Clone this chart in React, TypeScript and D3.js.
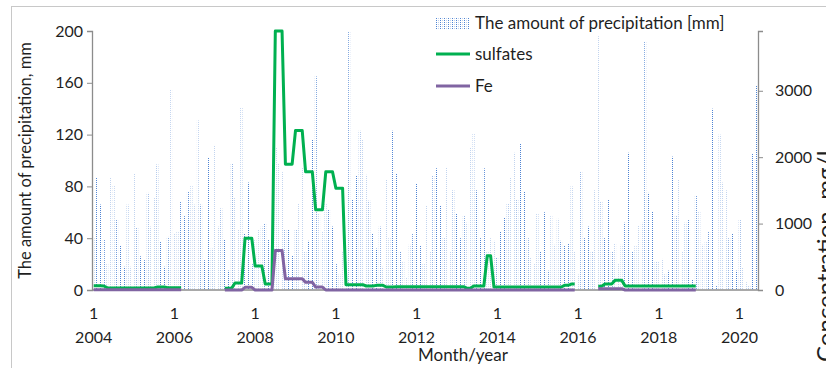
import React, { useEffect, useRef } from 'react'
import * as d3 from 'd3'

const width = 826
const height = 368
// plot area: x 92..758, y 31..290
const margin = { top: 31, right: 68, bottom: 78, left: 92 }

const firstYear = 2004
// monthly precipitation [mm], Jan 2004 .. Jun 2020
const precipitation = [
  40, 87, 66, 39, 20, 87, 81, 54, 34, 18, 66, 18,
  90, 48, 26, 23, 75, 49, 71, 97, 37, 18, 41, 155,
  44, 45, 68, 57, 76, 81, 66, 131, 66, 23, 102, 32,
  112, 49, 63, 39, 15, 98, 71, 47, 141, 44, 83, 20,
  39, 47, 49, 51, 39, 30, 110, 98, 91, 47, 47, 27,
  47, 67, 95, 30, 38, 116, 165, 59, 45, 67, 62, 49,
  20, 12, 30, 22, 200, 70, 88, 123, 116, 89, 69, 44,
  32, 49, 18, 85, 40, 123, 90, 30, 22, 10, 35, 44,
  82, 34, 20, 65, 30, 88, 94, 65, 40, 95, 30, 77,
  59, 40, 57, 52, 110, 121, 77, 40, 94, 30, 40, 38,
  25, 45, 56, 67, 87, 106, 70, 113, 76, 40, 25, 20,
  59, 30, 60, 15, 57, 35, 55, 38, 34, 36, 80, 30,
  12, 91, 40, 49, 30, 77, 196, 68, 40, 70, 30, 36,
  20, 35, 52, 106, 30, 34, 50, 52, 192, 75, 61, 22,
  22, 24, 12, 15, 103, 57, 85, 30, 52, 54, 8, 73,
  61, 35, 37, 45, 140, 3, 120, 83, 77, 40, 44, 15,
  54, 17, 6, 3, 105, 158
]

// sulfates [mg/L], null = no measurement
const sulfates = [
  65, 65, 65, 60, 35, 30, 30, 30, 30, 30, 30, 30,
  30, 30, 30, 30, 30, 30, 30, 45, 45, 45, 35, 35,
  35, 35, 35, null, null, null, null, null, null, null, null, null,
  null, null, null, 25, 25, 25, 105, 105, 105, 780, 780, 780,
  360, 360, 360, 90, 90, 90, 3900, 3900, 3900, 1895, 1895, 1895,
  2400, 2400, 2400, 1780, 1780, 1780, 1208, 1208, 1208, 1780, 1780, 1780,
  1534, 1534, 1534, 80, 80, 80, 80, 80, 80, 60, 60, 60,
  70, 70, 70, 45, 45, 45, 50, 50, 50, 50, 50, 50,
  50, 50, 50, 50, 50, 50, 50, 50, 50, 50, 50, 50,
  50, 50, 50, 25, 25, 60, 60, 60, 60, 516, 516, 45,
  45, 45, 45, 45, 45, 45, 45, 45, 45, 45, 45, 45,
  45, 45, 45, 45, 45, 45, 45, 45, 70, 70, 90, 90,
  null, null, null, null, null, null, 55, 55, 90, 90, 90, 145,
  145, 145, 60, 60, 60, 60, 60, 60, 60, 60, 60, 60,
  60, 60, 60, 60, 60, 60, 60, 60, 60, 60, 60, 60,
  null, null, null, null, null, null, null, null, null, null, null, null,
  null, null, null, null, null, null
]

// Fe [mg/L]
const fe = [
  5, 5, 5, 5, 5, 5, 5, 5, 5, 5, 5, 5,
  5, 5, 5, 5, 5, 5, 5, 5, 5, 5, 5, 5,
  5, 5, 5, null, null, null, null, null, null, null, null, null,
  null, null, null, 0, 0, 0, 0, 0, 0, 40, 40, 40,
  0, 0, 0, 0, 0, 0, 595, 595, 595, 170, 170, 170,
  170, 170, 170, 115, 115, 115, 45, 45, 45, 0, 0, 0,
  0, 0, 0, 0, 0, 0, 0, 0, 0, 0, 0, 0,
  0, 0, 0, 0, 0, 0, 0, 0, 0, 0, 0, 0,
  0, 0, 0, 0, 0, 0, 0, 0, 0, 0, 0, 0,
  0, 0, 0, 0, 0, 0, 0, 0, 0, 0, 0, 0,
  0, 0, 0, 0, 0, 0, 0, 0, 0, 0, 0, 0,
  0, 0, 0, 0, 0, 0, 0, 0, 0, 0, 0, 0,
  null, null, null, null, null, null, 20, 20, 20, 20, 20, 20,
  20, 20, 0, 0, 0, 0, 0, 0, 0, 0, 0, 0,
  0, 0, 0, 0, 0, 0, 0, 0, 0, 0, 0, 0,
  null, null, null, null, null, null, null, null, null, null, null, null,
  null, null, null, null, null, null
]

const precipTicks = [0, 40, 80, 120, 160, 200]
const concTicks = [0, 1000, 2000, 3000]
const yearLabels = [2004, 2006, 2008, 2010, 2012, 2014, 2016, 2018, 2020]

const font = 'Lato, "Open Sans", sans-serif'
const textColor = '#1f1f1f'
const axisColor = '#8c8c8c'
const green = '#00b050'
const purple = '#8064a2'

export default function App () {
  const ref = useRef<SVGSVGElement>(null)

  useEffect(() => {
    const svg = d3.select(ref.current)
    svg.selectAll('*').remove()

    const months = precipitation.map((_, i) => i)

    // scales
    const x = d3.scaleBand<number>()
      .domain(months)
      .range([margin.left, width - margin.right])
      .padding(0)
    const cx = (i: number) => (x(i) as number) + x.bandwidth() / 2

    const yLeft = d3.scaleLinear()
      .domain([0, 200])
      .range([height - margin.bottom, margin.top])
    const yRight = d3.scaleLinear()
      .domain([0, 3900])
      .range([height - margin.bottom, margin.top])

    // dotted fill for the precipitation bars
    const defs = svg.append('defs')
    const pat = defs.append('pattern')
      .attr('id', 'dots')
      .attr('patternUnits', 'userSpaceOnUse')
      .attr('width', 4)
      .attr('height', 2)
    pat.append('rect').attr('x', 0).attr('y', 0).attr('width', 1).attr('height', 1).attr('fill', '#4f84d4')
    pat.append('rect').attr('x', 2).attr('y', 0).attr('width', 1).attr('height', 1).attr('fill', '#c2d4ef')

    // chart border
    svg.append('rect')
      .attr('x', 11.5).attr('y', 6.5)
      .attr('width', 830).attr('height', 380)
      .attr('fill', 'none')
      .attr('stroke', '#c8c8c8')

    // bars
    const barW = 2
    svg.append('g')
      .selectAll('rect')
      .data(months)
      .join('rect')
      .attr('x', i => cx(i) - barW / 2)
      .attr('width', barW)
      .attr('y', i => yLeft(precipitation[i]))
      .attr('height', i => yLeft(0) - yLeft(precipitation[i]))
      .attr('fill', 'url(#dots)')

    // left axis
    const leftAxis = svg.append('g')
      .attr('transform', `translate(${margin.left}, 0)`)
      .call(d3.axisLeft(yLeft).tickValues(precipTicks).tickSize(5).tickPadding(4))
    // right axis
    const rightAxis = svg.append('g')
      .attr('transform', `translate(${width - margin.right}, 0)`)
      .call(d3.axisRight(yRight).tickValues(concTicks).tickFormat(d3.format('d')).tickSize(5).tickPadding(12))
    for (const g of [leftAxis, rightAxis]) {
      g.select('.domain').attr('stroke', axisColor).attr('stroke-width', 1.3)
      g.selectAll('.tick line').attr('stroke', axisColor)
      g.selectAll('.tick text')
        .attr('font-family', font)
        .attr('font-size', 16)
        .attr('fill', textColor)
    }
    // bottom axis line
    svg.append('line')
      .attr('x1', margin.left).attr('x2', width - margin.right)
      .attr('y1', yLeft(0)).attr('y2', yLeft(0))
      .attr('stroke', axisColor).attr('stroke-width', 1.3)

    // x labels: month / year (every 2 years, January)
    const xl = svg.append('g')
      .attr('font-family', font)
      .attr('font-size', 16)
      .attr('fill', textColor)
      .attr('text-anchor', 'middle')
    yearLabels.forEach(yr => {
      const i = (yr - firstYear) * 12
      xl.append('text').attr('x', cx(i)).attr('y', 319).text('1')
      xl.append('text').attr('x', cx(i)).attr('y', 343).text(yr)
    })

    // lines
    const line = (vals: (number | null)[]) => d3.line<number>()
      .defined(i => vals[i] != null)
      .x(i => cx(i))
      .y(i => yRight(vals[i] as number))(months)

    svg.append('path')
      .attr('d', line(sulfates))
      .attr('fill', 'none')
      .attr('stroke', green)
      .attr('stroke-width', 3)
      .attr('stroke-linejoin', 'round')
    svg.append('path')
      .attr('d', line(fe))
      .attr('fill', 'none')
      .attr('stroke', purple)
      .attr('stroke-width', 3)
      .attr('stroke-linejoin', 'round')

    // axis titles
    svg.append('text')
      .attr('transform', `translate(31, ${(margin.top + yLeft(0)) / 2}) rotate(-90)`)
      .attr('text-anchor', 'middle')
      .attr('font-family', font)
      .attr('font-size', 16.5)
      .attr('fill', textColor)
      .text('The amount of precipitation, mm')
    svg.append('text')
      .attr('transform', 'translate(834, 362) rotate(-90)')
      .attr('text-anchor', 'start')
      .attr('font-family', font)
      .attr('font-size', 24)
      .attr('fill', textColor)
      .text('Concentration, mg/L')
    svg.append('text')
      .attr('x', 463)
      .attr('y', 361)
      .attr('text-anchor', 'middle')
      .attr('font-family', font)
      .attr('font-size', 17)
      .attr('fill', textColor)
      .text('Month/year')

    // legend
    const lg = svg.append('g')
      .attr('font-family', font)
      .attr('font-size', 17)
      .attr('fill', textColor)
    lg.append('rect')
      .attr('x', 436).attr('y', 17).attr('width', 34).attr('height', 12)
      .attr('fill', 'url(#dots)')
    lg.append('text').attr('x', 475).attr('y', 29).text('The amount of precipitation [mm]')
    lg.append('line')
      .attr('x1', 436).attr('x2', 470).attr('y1', 54).attr('y2', 54)
      .attr('stroke', green).attr('stroke-width', 3)
    lg.append('text').attr('x', 475).attr('y', 60).text('sulfates')
    lg.append('line')
      .attr('x1', 436).attr('x2', 470).attr('y1', 86).attr('y2', 86)
      .attr('stroke', purple).attr('stroke-width', 3)
    lg.append('text').attr('x', 475).attr('y', 92).text('Fe')
  }, [])

  return (
    <svg
      ref={ref}
      width={width}
      height={height}
      style={{ position: 'absolute', left: 0, top: 0, background: '#fff' }}
    />
  )
}
